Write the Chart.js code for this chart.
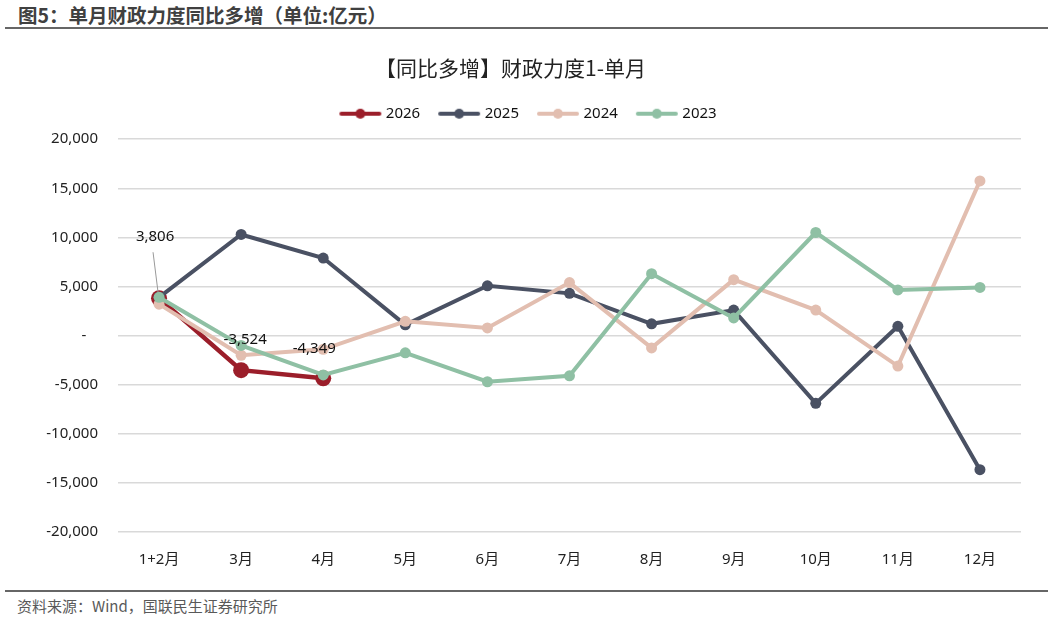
<!DOCTYPE html>
<html><head><meta charset="utf-8">
<script src="https://cdn.jsdelivr.net/npm/chart.js@4.4.1/dist/chart.umd.min.js"></script>
<style>
html,body{margin:0;padding:0;background:#fff;width:1055px;height:619px;overflow:hidden;font-family:"Noto Sans","Noto Sans CJK SC",sans-serif;}
#hdr{position:absolute;left:18px;top:2px;font-size:19.5px;font-weight:bold;color:#404040;font-family:"Noto Sans CJK SC",sans-serif;line-height:26px;}
#hline{position:absolute;left:5px;top:27px;width:1043px;height:2px;background:#666;}
#fline{position:absolute;left:5px;top:590px;width:1043px;height:2px;background:#666;}
#ftr{position:absolute;left:17px;top:595px;font-size:15px;color:#595959;font-family:"Noto Sans CJK SC",sans-serif;line-height:22px;}
#wrap{position:absolute;left:0;top:40px;width:1055px;height:545px;}
</style></head>
<body>
<div id="hdr">图5：单月财政力度同比多增（单位:亿元）</div>
<div id="hline"></div>
<div id="wrap"><canvas id="c" width="1055" height="545"></canvas></div>
<div id="fline"></div>
<div id="ftr">资料来源：Wind，国联民生证券研究所</div>
<script>
const categories = ['1+2月','3月','4月','5月','6月','7月','8月','9月','10月','11月','12月'];
const s2026 = [3806, -3524, -4349, null, null, null, null, null, null, null, null];
const s2025 = [3900, 10300, 7900, 1100, 5070, 4300, 1200, 2600, -6900, 950, -13650];
const s2024 = [3200, -2000, -1400, 1450, 780, 5400, -1250, 5700, 2600, -3100, 15750];
const s2023 = [3900, -1000, -4000, -1750, -4700, -4100, 6300, 1800, 10500, 4650, 4900];
const seriesNames = ['2026','2025','2024','2023'];
const yTicks = [-20000,-15000,-10000,-5000,0,5000,10000,15000,20000];

const colors = ['#9B1E2A','#4A5163','#E2BEB0','#8FC0A4'];
const FONT = '"Noto Sans","Noto Sans CJK SC",sans-serif';

function legendImg(color){
  const cv = document.createElement('canvas');
  cv.width = 44; cv.height = 14;
  const g = cv.getContext('2d');
  g.strokeStyle = color; g.lineWidth = 4; g.lineCap = 'round';
  g.beginPath(); g.moveTo(3,7); g.lineTo(41,7); g.stroke();
  g.fillStyle = color; g.beginPath(); g.arc(22,7,5,0,Math.PI*2); g.fill();
  return cv;
}
const legendImgs = colors.map(c => legendImg(c));

const dataArrs = [s2026, s2025, s2024, s2023];
const datasets = dataArrs.map((arr, i) => ({
  label: seriesNames[i],
  data: arr,
  borderColor: colors[i],
  backgroundColor: colors[i],
  pointBackgroundColor: colors[i],
  pointBorderColor: colors[i],
  borderWidth: i === 0 ? 4.5 : 4,
  pointRadius: i === 0 ? 8 : 5.5,
  pointHoverRadius: i === 0 ? 8 : 5.5,
  pointBorderWidth: 0,
  tension: 0,
  spanGaps: false,
  order: 4 - i
}));

const labelPlugin = {
  id: 'labels2026',
  afterLayout(chart){
    const lg = chart.legend;
    if (lg) { lg.left += 19; lg.right += 19; }
  },
  afterDatasetsDraw(chart){
    const ctx = chart.ctx;
    const meta = chart.getDatasetMeta(0);
    const offs = [[-4,-61],[4,-30],[-9,-30]];
    ctx.save();
    ctx.font = '15px ' + FONT;
    ctx.fillStyle = '#111';
    ctx.textAlign = 'center';
    ctx.textBaseline = 'middle';
    s2026.forEach((v, i) => {
      if (v === null) return;
      const p = meta.data[i];
      const o = offs[i] || [0,-20];
      ctx.fillText(v.toLocaleString('en-US'), p.x + o[0], p.y + o[1]);
      if (i === 0) {
        ctx.strokeStyle = '#999'; ctx.lineWidth = 1;
        ctx.beginPath(); ctx.moveTo(p.x - 6, p.y - 46); ctx.lineTo(p.x - 1, p.y - 6); ctx.stroke();
      }
    });
    ctx.restore();
  }
};

const chart = new Chart(document.getElementById('c'), {
  type: 'line',
  data: { labels: categories, datasets },
  plugins: [labelPlugin],
  options: {
    responsive: false,
    animation: false,
    events: [],
    layout: { padding: { left: 0, right: 34, top: 0, bottom: 0 } },
    plugins: {
      tooltip: { enabled: false },
      title: {
        display: true,
        text: '【同比多增】财政力度1-单月',
        color: '#222',
        font: { family: '"Noto Sans CJK SC",sans-serif', size: 21, weight: 'normal' },
        padding: { top: 15, bottom: 5 }
      },
      legend: {
        display: true,
        position: 'top',
        labels: {
          usePointStyle: true,
          pointStyleWidth: 36,
          boxHeight: 14,
          padding: 21,
          color: '#111',
          font: { family: FONT, size: 15 },
          sort: (a, b) => a.datasetIndex - b.datasetIndex,
          generateLabels(chart) {
            return chart.data.datasets.map((ds, i) => ({
              text: ds.label,
              fillStyle: ds.borderColor,
              strokeStyle: ds.borderColor,
              lineWidth: 0,
              pointStyle: legendImgs[i],
              hidden: false,
              datasetIndex: i,
              fontColor: '#111'
            }));
          }
        }
      }
    },
    scales: {
      x: {
        offset: true,
        grid: { display: false, drawTicks: false, offset: true },
        border: { display: false },
        ticks: { color: '#222', font: { family: FONT, size: 15 }, padding: 19, maxRotation: 0 },
        afterFit(s){ s.height = 53; }
      },
      y: {
        min: -20000, max: 20000,
        afterBuildTicks(s){ s.ticks = yTicks.map(v => ({ value: v })); },
        grid: { color: '#d9d9d9', lineWidth: 1.5, drawTicks: false },
        border: { display: false },
        ticks: {
          color: '#222', font: { family: FONT, size: 15 }, padding: 20,
          callback: v => v === 0 ? '-   ' : v.toLocaleString('en-US')
        },
        afterFit(s){ s.width = 118; }
      }
    }
  }
});

if (Chart.layouts && Chart.layouts.addBox) {
  const spacer = {
    position: 'top', weight: 1, fullSize: true, options: {},
    isHorizontal(){ return true; },
    update(maxW){ this.width = maxW; this.height = 8; },
    draw(){}
  };
  Chart.layouts.addBox(chart, spacer);
  chart.update();
}
</script>
</body></html>
